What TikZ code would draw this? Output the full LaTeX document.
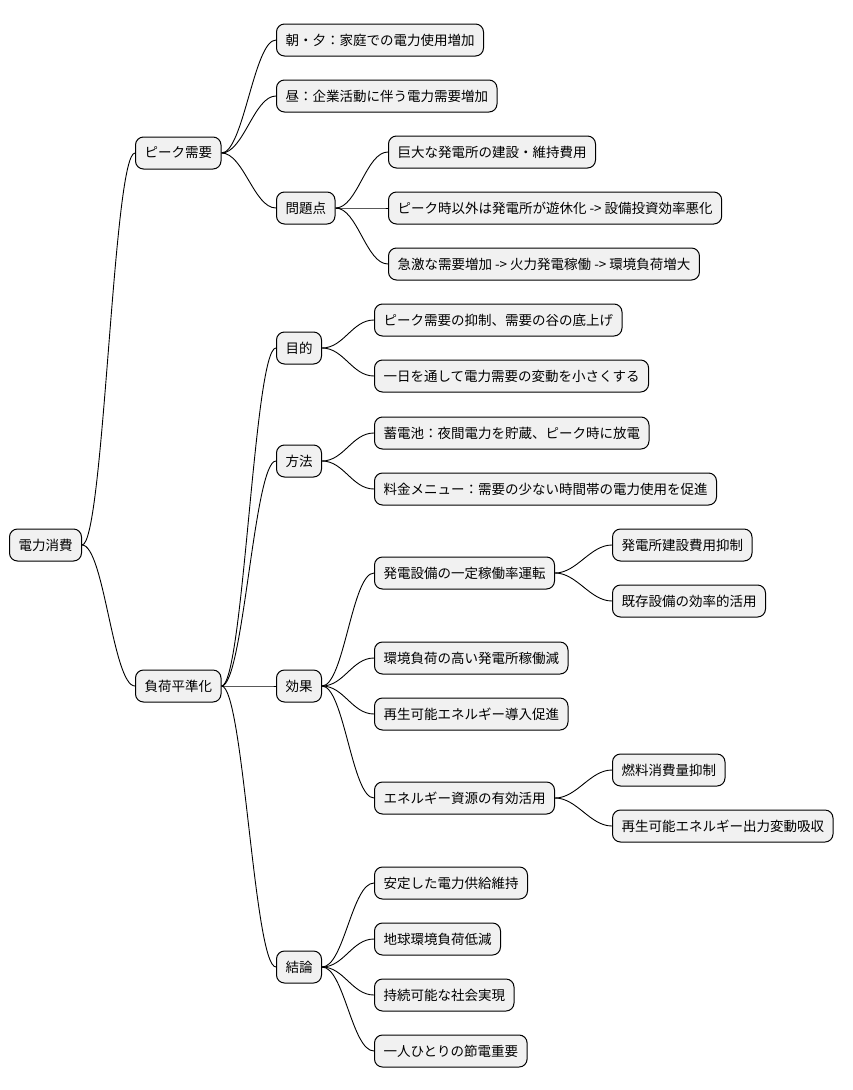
\documentclass[tikz,border=0pt]{standalone}
\usepackage{fontspec}
\setmainfont{Noto Sans CJK JP}
\begin{document}
\begin{tikzpicture}[x=1pt,y=-1pt,
  box/.style={draw=black,line width=1pt,fill={rgb,255:red,241;green,241;blue,241},rounded corners=8pt,
    anchor=west,minimum height=32pt,inner xsep=9pt,font=\fontsize{13.5pt}{16pt}\selectfont},
  link/.style={line width=0.9pt}]
\useasboundingbox (0,0) rectangle (852,1090);
\node[box] (r) at (9,545) {電力消費};
\node[box] (p) at (135,153) {ピーク需要};
\node[box] (p1) at (276,40) {朝・夕：家庭での電力使用増加};
\node[box] (p2) at (276,96) {昼：企業活動に伴う電力需要増加};
\node[box] (p3) at (276,208) {問題点};
\node[box] (p31) at (388,152) {巨大な発電所の建設・維持費用};
\node[box] (p32) at (388,208) {ピーク時以外は発電所が遊休化 -> 設備投資効率悪化};
\node[box] (p33) at (388,264) {急激な需要増加 -> 火力発電稼働 -> 環境負荷増大};
\node[box] (f) at (135,686) {負荷平準化};
\node[box] (a) at (276,348) {目的};
\node[box] (a1) at (374,320) {ピーク需要の抑制、需要の谷の底上げ};
\node[box] (a2) at (374,376) {一日を通して電力需要の変動を小さくする};
\node[box] (b) at (276,461) {方法};
\node[box] (b1) at (374,433) {蓄電池：夜間電力を貯蔵、ピーク時に放電};
\node[box] (b2) at (374,489) {料金メニュー：需要の少ない時間帯の電力使用を促進};
\node[box] (c) at (276,686) {効果};
\node[box] (c1) at (374,573) {発電設備の一定稼働率運転};
\node[box] (c11) at (612,545) {発電所建設費用抑制};
\node[box] (c12) at (612,601) {既存設備の効率的活用};
\node[box] (c2) at (374,658) {環境負荷の高い発電所稼働減};
\node[box] (c3) at (374,714) {再生可能エネルギー導入促進};
\node[box] (c4) at (374,798) {エネルギー資源の有効活用};
\node[box] (c41) at (612,770) {燃料消費量抑制};
\node[box] (c42) at (612,826) {再生可能エネルギー出力変動吸収};
\node[box] (d) at (276,967) {結論};
\node[box] (d1) at (374,883) {安定した電力供給維持};
\node[box] (d2) at (374,939) {地球環境負荷低減};
\node[box] (d3) at (374,995) {持続可能な社会実現};
\node[box] (d4) at (374,1051) {一人ひとりの節電重要};
\foreach \s/\t in {r/p,r/f,p/p1,p/p2,p/p3,p3/p31,p3/p32,p3/p33,f/a,f/b,f/c,f/d,
  a/a1,a/a2,b/b1,b/b2,c/c1,c/c2,c/c3,c/c4,c1/c11,c1/c12,c4/c41,c4/c42,d/d1,d/d2,d/d3,d/d4}
  \draw[link] (\s.east) .. controls +(22,0) and +(-22,0) .. (\t.west);
\end{tikzpicture}
\end{document}
